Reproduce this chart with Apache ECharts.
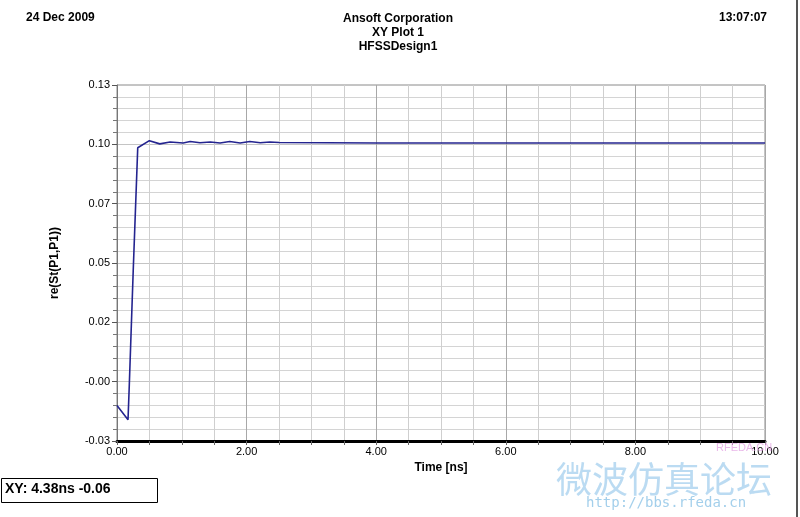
<!DOCTYPE html>
<html>
<head>
<meta charset="utf-8">
<script src="https://cdn.jsdelivr.net/npm/echarts@6/dist/echarts.min.js"></script>
<style>
html,body{margin:0;padding:0;background:#fff;}
#chart{width:800px;height:517px;}
</style>
</head>
<body>
<div id="chart"></div>
<script>
// Data
var timeNs = [0, 0.17, 0.19, 0.25, 0.32, 0.50, 0.66, 0.82, 1.02, 1.13, 1.28, 1.44, 1.59, 1.74, 1.90, 2.05, 2.21, 2.36, 2.50, 4.00, 6.00, 8.00, 10.00];
var reS11 = [-0.0131, -0.0193, -0.004, 0.045, 0.0985, 0.1016, 0.1002, 0.1010, 0.1006, 0.1012, 0.1007, 0.1010, 0.1006, 0.1012, 0.1006, 0.1012, 0.1007, 0.1010, 0.1008, 0.1006, 0.1006, 0.1006, 0.1006];
var yMin = -0.0285, yMax = 0.1257, yStep = 0.0257;
var xMin = 0, xMax = 10, xStep = 2;
var headerLeft = '24 Dec 2009';
var headerRight = '13:07:07';
var titleLines = ['Ansoft Corporation', 'XY Plot 1', 'HFSSDesign1'];
var markerText = 'XY: 4.38ns -0.06';

var chart = echarts.init(document.getElementById('chart'), null, {renderer: 'canvas'});
var font = 'Liberation Sans, Arial, sans-serif';
var pts = timeNs.map(function (t, i) { return [t, reS11[i]]; });

chart.setOption({
  animation: false,
  backgroundColor: '#fff',
  textStyle: {fontFamily: font},
  grid: {left: 117, right: 35, top: 85, bottom: 76, show: true, borderColor: '#8a8a8a', borderWidth: 1, backgroundColor: '#fff'},
  xAxis: {
    type: 'value', min: xMin, max: xMax, interval: xStep,
    name: 'Time [ns]', nameLocation: 'middle', nameGap: 21,
    nameTextStyle: {color: '#000', fontSize: 12, fontWeight: 'bold', fontFamily: font},
    axisLine: {show: true, onZero: false, lineStyle: {color: '#000', width: 3}},
    axisTick: {show: true, length: 4, lineStyle: {color: '#666'}},
    minorTick: {show: true, splitNumber: 4, length: 4, lineStyle: {color: '#666'}},
    axisLabel: {color: '#000', fontSize: 11, margin: 5, fontFamily: font, formatter: function (v) { return v.toFixed(2); }},
    splitLine: {show: true, lineStyle: {color: '#a8a8a8', width: 1}},
    minorSplitLine: {show: true, lineStyle: {color: '#cfcfcf', width: 1}}
  },
  yAxis: {
    type: 'value', min: yMin, max: yMax, interval: yStep,
    name: 're(St(P1,P1))', nameLocation: 'middle', nameGap: 56, nameRotate: 90,
    nameTextStyle: {color: '#000', fontSize: 12, fontWeight: 'bold', fontFamily: font},
    axisLine: {show: true, onZero: false, lineStyle: {color: '#777', width: 1}},
    axisTick: {show: true, length: 5, lineStyle: {color: '#555'}},
    minorTick: {show: true, splitNumber: 5, length: 4, lineStyle: {color: '#777'}},
    axisLabel: {color: '#000', fontSize: 11, margin: 7, fontFamily: font, formatter: function (v) { return v.toFixed(2); }},
    splitLine: {show: true, lineStyle: {color: '#c4c4c4', width: 1}},
    minorSplitLine: {show: true, lineStyle: {color: '#d4d4d4', width: 1}}
  },
  series: [{
    type: 'line', data: pts, symbol: 'none', smooth: false,
    lineStyle: {color: '#24248f', width: 1.6},
    z: 5
  }],
  graphic: [
    {type: 'text', left: 26, top: 12, style: {text: headerLeft, fill: '#000', font: 'bold 12px ' + font}},
    {type: 'text', right: 33, top: 12, style: {text: headerRight, fill: '#000', font: 'bold 12px ' + font}},
    {type: 'text', x: 398, y: 13, style: {text: titleLines[0], fill: '#000', font: 'bold 12px ' + font, textAlign: 'center'}},
    {type: 'text', x: 398, y: 27, style: {text: titleLines[1], fill: '#000', font: 'bold 12px ' + font, textAlign: 'center'}},
    {type: 'text', x: 398, y: 41, style: {text: titleLines[2], fill: '#000', font: 'bold 12px ' + font, textAlign: 'center'}},
    {type: 'rect', shape: {x: 1.5, y: 478.5, width: 156, height: 24}, style: {fill: '#fff', stroke: '#000', lineWidth: 1}},
    {type: 'text', x: 5, y: 482, style: {text: markerText, fill: '#000', font: 'bold 14px ' + font}},
    {type: 'line', shape: {x1: 797, y1: 0, x2: 797, y2: 517}, style: {stroke: '#555', lineWidth: 2}},
    {type: 'text', x: 716, y: 442, z: 100, style: {text: 'RFEDA.CN', fill: 'rgba(225,160,225,0.75)', font: '11px ' + font}},
    {type: 'text', x: 556, y: 461, z: 100, style: {text: '微波仿真论坛', fill: 'rgba(150,200,235,0.65)', font: '36px "Noto Sans CJK SC"'}},
    {type: 'text', x: 586, y: 496, z: 100, style: {text: 'http://bbs.rfeda.cn', fill: 'rgba(140,195,230,0.8)', font: '14px "DejaVu Sans Mono"'}}
  ]
});
</script>
</body>
</html>
